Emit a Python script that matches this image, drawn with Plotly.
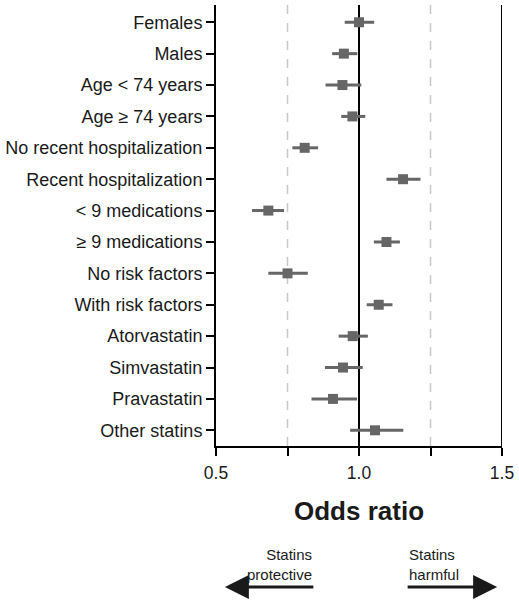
import plotly.graph_objects as go

# Subgroups, top to bottom
subgroups = [
    "Females", "Males", "Age < 74 years", "Age ≥ 74 years",
    "No recent hospitalization", "Recent hospitalization",
    "< 9 medications", "≥ 9 medications",
    "No risk factors", "With risk factors",
    "Atorvastatin", "Simvastatin", "Pravastatin", "Other statins",
]
odds_ratio = [1.00, 0.947, 0.942, 0.977, 0.810, 1.154, 0.683, 1.096,
              0.750, 1.069, 0.978, 0.944, 0.909, 1.056]
ci_low = [0.950, 0.906, 0.883, 0.938, 0.767, 1.096, 0.626, 1.052,
          0.683, 1.027, 0.929, 0.881, 0.834, 0.969]
ci_high = [1.053, 0.994, 1.008, 1.022, 0.857, 1.215, 0.738, 1.143,
           0.821, 1.117, 1.031, 1.013, 0.993, 1.155]

x_ticks = [0.5, 0.75, 1.0, 1.25, 1.5]
x_ticktext = ["0.5", "", "1.0", "", "1.5"]

grey = "#666666"
font = "Liberation Sans, Arial, sans-serif"

fig = go.Figure()
fig.add_trace(go.Scatter(
    x=odds_ratio, y=subgroups, mode="markers",
    marker=dict(symbol="square", size=10, color=grey),
    error_x=dict(type="data", symmetric=False,
                 array=[h - o for h, o in zip(ci_high, odds_ratio)],
                 arrayminus=[o - l for o, l in zip(odds_ratio, ci_low)],
                 width=0, thickness=3, color=grey),
    showlegend=False,
))

# reference lines
for xv, col, dash, w in [(0.75, "#c8c8c8", "dash", 1.5), (1.25, "#c8c8c8", "dash", 1.5),
                         (1.0, "black", "solid", 2), (1.5, "black", "solid", 2)]:
    fig.add_shape(type="line", xref="x", yref="paper", x0=xv, x1=xv, y0=0, y1=1,
                  line=dict(color=col, width=w, dash=dash), layer="below")

fig.update_layout(
    width=519, height=600,
    margin=dict(l=214, r=17, t=5, b=154),
    plot_bgcolor="white", paper_bgcolor="white",
    font=dict(family=font, color="#1a1a1a"),
)
fig.update_xaxes(range=[0.5, 1.5], tickvals=x_ticks, ticktext=x_ticktext,
                 showgrid=False, zeroline=False, showline=True, linecolor="black",
                 linewidth=2, ticks="outside", ticklen=8, tickwidth=2, tickcolor="black",
                 tickfont=dict(size=17.5), ticklabelstandoff=2)
fig.update_yaxes(type="category", categoryorder="array", categoryarray=subgroups,
                 range=[13.5, -0.55], showgrid=False, zeroline=False, showline=True,
                 linecolor="black", linewidth=2, ticks="outside", ticklen=8, tickwidth=2,
                 tickcolor="black", tickfont=dict(size=18))

fig.add_annotation(text="<b>Odds ratio</b>", xref="paper", yref="paper", x=0.5, y=-0.147,
                   showarrow=False, font=dict(size=26, color="#1a1a1a"),
                   xanchor="center", yanchor="middle")
fig.add_annotation(text="Statins<br>protective", xref="paper", yref="paper", x=0.344,
                   y=-0.268, showarrow=False, align="right", xanchor="right",
                   yanchor="middle", font=dict(size=15, color="#1a1a1a"))
fig.add_annotation(text="Statins<br>harmful", xref="paper", yref="paper", x=0.667,
                   y=-0.268, showarrow=False, align="left", xanchor="left",
                   yanchor="middle", font=dict(size=15, color="#1a1a1a"))
# arrows
fig.add_annotation(text="", xref="paper", yref="paper", x=0.031, y=-0.32,
                   axref="pixel", ayref="pixel", ax=90, ay=0, showarrow=True,
                   arrowhead=2, arrowsize=1.6, arrowwidth=3, arrowcolor="#1a1a1a")
fig.add_annotation(text="", xref="paper", yref="paper", x=0.983, y=-0.32,
                   axref="pixel", ayref="pixel", ax=-91, ay=0, showarrow=True,
                   arrowhead=2, arrowsize=1.6, arrowwidth=3, arrowcolor="#1a1a1a")

# drop the default 8px body margin so the figure sits at the page corner
fig.write_html("out.html", config={"displayModeBar": False},
               post_script="document.body.style.margin='0';")
